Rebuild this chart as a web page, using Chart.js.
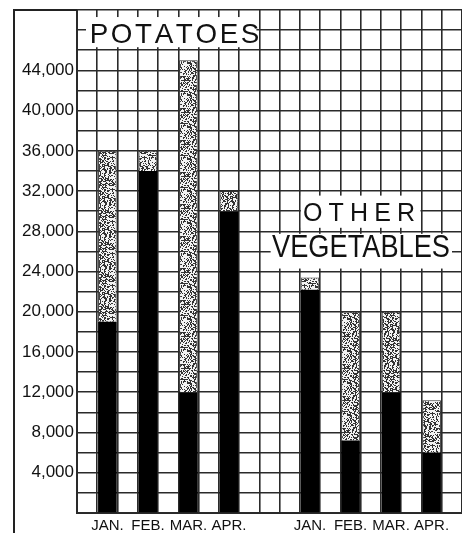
<!DOCTYPE html>
<html lang="en">

<head>
    <meta charset="UTF-8">
    <title>Potatoes and other vegetables</title>
    <script src="https://cdn.jsdelivr.net/npm/chart.js@4.4.1/dist/chart.umd.min.js"></script>
    <style>
        body { margin: 0; background: #fff; }
        .wrap { width: 462px; height: 533px; position: relative; }
    </style>
</head>

<body>
    <div class="wrap">
        <canvas id="myChart"></canvas>
    </div>

    <script>
        // values
        const months = ['JAN.', 'FEB.', 'MAR.', 'APR.'];
        const potatoSolid = [19000, 34000, 12000, 30000];
        const potatoTotal = [36000, 36000, 45000, 32000];
        const otherSolid = [22200, 7200, 12000, 6000];
        const otherTotal = [23400, 20000, 20000, 11200];
        const yLabelValues = [4000, 8000, 12000, 16000, 20000, 24000, 28000, 32000, 36000, 40000, 44000];

        // the grid has 19 columns, bars sit in every other one
        const slotCount = 19;
        const potatoSlots = [1, 3, 5, 7];
        const otherSlots = [11, 13, 15, 17];

        let labels = Array(slotCount).fill('');
        let solid = Array(slotCount).fill(null);
        let stipple = Array(slotCount).fill(null);
        months.forEach((m, i) => {
            labels[potatoSlots[i]] = m;
            labels[otherSlots[i]] = m;
            solid[potatoSlots[i]] = potatoSolid[i];
            stipple[potatoSlots[i]] = potatoTotal[i] - potatoSolid[i];
            solid[otherSlots[i]] = otherSolid[i];
            stipple[otherSlots[i]] = otherTotal[i] - otherSolid[i];
        });

        // speckled fill like the printed stipple (fixed hash, same every time)
        function makeStipple() {
            let n = 32;
            let pc = document.createElement('canvas');
            pc.width = n;
            pc.height = n;
            let p = pc.getContext('2d');
            p.fillStyle = '#f2f2f2';
            p.fillRect(0, 0, n, n);
            p.fillStyle = '#333';
            for (let i = 0; i < n; i++) {
                for (let j = 0; j < n; j++) {
                    let h = Math.imul(i + 1, 374761393) + Math.imul(j + 1, 668265263);
                    h = Math.imul(h ^ (h >>> 13), 1274126177);
                    h = (h ^ (h >>> 16)) >>> 0;
                    if (h % 100 < 42) p.fillRect(i, j, 1, 1);
                }
            }
            return p.createPattern(pc, 'repeat');
        }

        function drawTitle(ctx, str, cx, cy, capH, width) {
            let size = capH / 0.72;
            ctx.font = size + "px 'Liberation Sans', Arial, sans-serif";
            let w = ctx.measureText(str).width;
            ctx.save();
            ctx.translate(cx, cy);
            ctx.textAlign = 'center';
            ctx.textBaseline = 'alphabetic';
            ctx.fillStyle = '#111';
            if (w < width) {
                // spread the letters out
                let gap = (width - w) / (str.length - 1);
                let pos = -width / 2;
                ctx.textAlign = 'left';
                for (const ch of str) {
                    ctx.fillText(ch, pos, capH / 2);
                    pos += ctx.measureText(ch).width + gap;
                }
            } else {
                ctx.scale(width / w, 1);
                ctx.fillText(str, 0, capH / 2);
            }
            ctx.restore();
        }

        const frameAndTitles = {
            id: 'frameAndTitles',
            beforeDatasetsDraw(chart) {
                const ctx = chart.ctx;
                const x = chart.scales.x, y = chart.scales.y;
                const area = chart.chartArea;
                const colW = x.getPixelForValue(1) - x.getPixelForValue(0);
                const edge = i => x.getPixelForValue(i) - colW / 2;

                // outer frame on the left
                ctx.save();
                ctx.strokeStyle = '#222';
                ctx.lineWidth = 2;
                ctx.beginPath();
                ctx.moveTo(14, chart.height);
                ctx.lineTo(14, area.top);
                ctx.lineTo(area.left, area.top);
                ctx.stroke();

                ctx.fillStyle = '#fff';
                // POTATOES
                let l = edge(0) + 9, r = edge(9) - 3;
                let t = y.getPixelForValue(49300), b = y.getPixelForValue(46300);
                ctx.fillRect(l, t, r - l, b - t);
                drawTitle(ctx, 'POTATOES', (l + r) / 2 + 1, (t + b) / 2 + 0.5, 20, 165);

                // OTHER
                ctx.fillStyle = '#fff';
                l = edge(11) + 1; r = edge(17) - 1;
                t = y.getPixelForValue(31550); b = y.getPixelForValue(28350);
                ctx.fillRect(l, t, r - l, b - t);
                drawTitle(ctx, 'OTHER', 359, y.getPixelForValue(29900), 18, 112);

                // VEGETABLES
                ctx.fillStyle = '#fff';
                l = edge(10) - 9; r = edge(19) - 10;
                t = y.getPixelForValue(27750); b = y.getPixelForValue(24300);
                ctx.fillRect(l, t, r - l, b - t);
                drawTitle(ctx, 'VEGETABLES', 361, y.getPixelForValue(26550), 22, 178);
                ctx.restore();
            }
        };

        Chart.defaults.font.family = "'Liberation Sans', Arial, sans-serif";
        Chart.defaults.color = '#111';

        let ctx = document.getElementById('myChart').getContext('2d');
        let myChart = new Chart(ctx, {
            type: 'bar',
            data: {
                labels: labels,
                datasets: [{
                    label: 'solid',
                    data: solid,
                    backgroundColor: '#000',
                    borderWidth: 0,
                    barPercentage: 1,
                    categoryPercentage: 0.92
                }, {
                    label: 'stipple',
                    data: stipple,
                    backgroundColor: makeStipple(),
                    borderColor: '#333',
                    borderWidth: 1,
                    barPercentage: 1,
                    categoryPercentage: 0.92
                }]
            },
            options: {
                responsive: true,
                maintainAspectRatio: false,
                animation: false,
                layout: { padding: { top: 10, left: 0, right: 0, bottom: 0 } },
                plugins: {
                    legend: { display: false },
                    tooltip: { enabled: false }
                },
                scales: {
                    x: {
                        stacked: true,
                        offset: true,
                        grid: { offset: true, color: '#2a2a2a', lineWidth: 1.6, drawTicks: false },
                        border: { color: '#2a2a2a', width: 2 },
                        ticks: { autoSkip: false, maxRotation: 0, padding: 4, font: { size: 15 } },
                        afterFit(scale) { scale.height = 20; scale.paddingLeft = 0; scale.paddingRight = 0; }
                    },
                    y: {
                        stacked: true,
                        min: 0,
                        max: 50000,
                        grid: { color: '#2a2a2a', lineWidth: 1.6, drawTicks: false },
                        border: { color: '#2a2a2a', width: 2 },
                        ticks: {
                            stepSize: 2000,
                            autoSkip: false,
                            padding: 3,
                            font: { size: 17 },
                            callback: v => yLabelValues.includes(v) ? v.toLocaleString('en-US') : ''
                        },
                        afterFit(scale) { scale.width = 77; scale.paddingTop = 0; scale.paddingBottom = 0; }
                    }
                }
            },
            plugins: [frameAndTitles]
        });
    </script>
</body>

</html>
